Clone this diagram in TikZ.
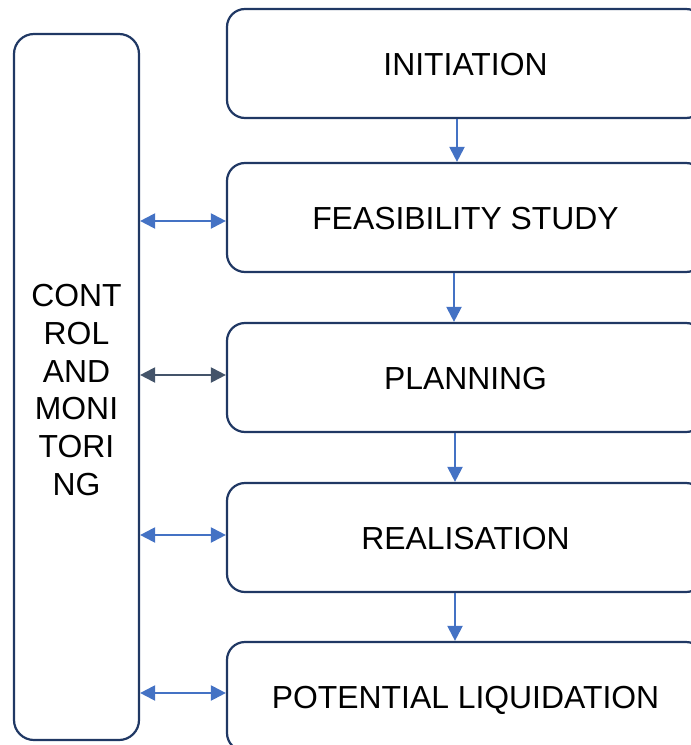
\documentclass[tikz,border=0pt]{standalone}
\usepackage{fontspec}
\setmainfont{Liberation Sans}
\usetikzlibrary{arrows.meta}
\definecolor{boxline}{HTML}{203864}
\definecolor{arrblue}{HTML}{4472C4}
\definecolor{arrgray}{HTML}{44546A}
\tikzset{
  stagebox/.style={draw=boxline, line width=2.2bp, rounded corners=18bp, fill=white,
    minimum width=477bp, minimum height=109bp, inner sep=0pt,
    text height=23bp, text depth=0pt,
    font=\fontsize{32}{38}\selectfont},
  ctrlbox/.style={draw=boxline, line width=2.2bp, rounded corners=20bp, fill=white,
    minimum width=125bp, minimum height=706bp, inner sep=0pt, align=center,
    font=\fontsize{32}{37.8}\selectfont},
  ctrltext/.style={inner sep=0pt, align=center, font=\fontsize{32}{37.8}\selectfont},
  flowarrow/.style={draw=arrblue, line width=2.2bp, -{Triangle[length=15bp,width=15bp]}},
  linkarrow/.style={draw=arrblue, line width=2.2bp, {Triangle[length=15bp,width=15bp]}-{Triangle[length=15bp,width=15bp]}},
}
\begin{document}
\begin{tikzpicture}[x=1bp,y=-1bp]
\useasboundingbox (0,0) rectangle (691,745);
\clip (0,0) rectangle (691,745);
\node[ctrlbox] (ctrl) at (76.5,387) {};
\node[ctrltext] (ctrllabel) at (76.5,390) {CONT\\ROL\\AND\\MONI\\TORI\\NG};
\node[stagebox] (init) at (465.5,63.5) {INITIATION};
\node[stagebox] (feas) at (465.5,217.5) {FEASIBILITY STUDY};
\node[stagebox] (plan) at (465.5,377.5) {PLANNING};
\node[stagebox] (real) at (465.5,537.5) {REALISATION};
\node[stagebox] (liq) at (465.5,696.5) {POTENTIAL LIQUIDATION};
\draw[flowarrow] (init.south -| 457,0) -- (feas.north -| 457,0);
\draw[flowarrow] (feas.south -| 454,0) -- (plan.north -| 454,0);
\draw[flowarrow] (plan.south -| 455,0) -- (real.north -| 455,0);
\draw[flowarrow] (real.south -| 455,0) -- (liq.north -| 455,0);
\draw[linkarrow] (ctrl.east |- 0,221) -- (feas.west |- 0,221);
\draw[linkarrow, draw=arrgray] (ctrl.east |- 0,375) -- (plan.west |- 0,375);
\draw[linkarrow] (ctrl.east |- 0,535) -- (real.west |- 0,535);
\draw[linkarrow] (ctrl.east |- 0,693) -- (liq.west |- 0,693);
\end{tikzpicture}
\end{document}
